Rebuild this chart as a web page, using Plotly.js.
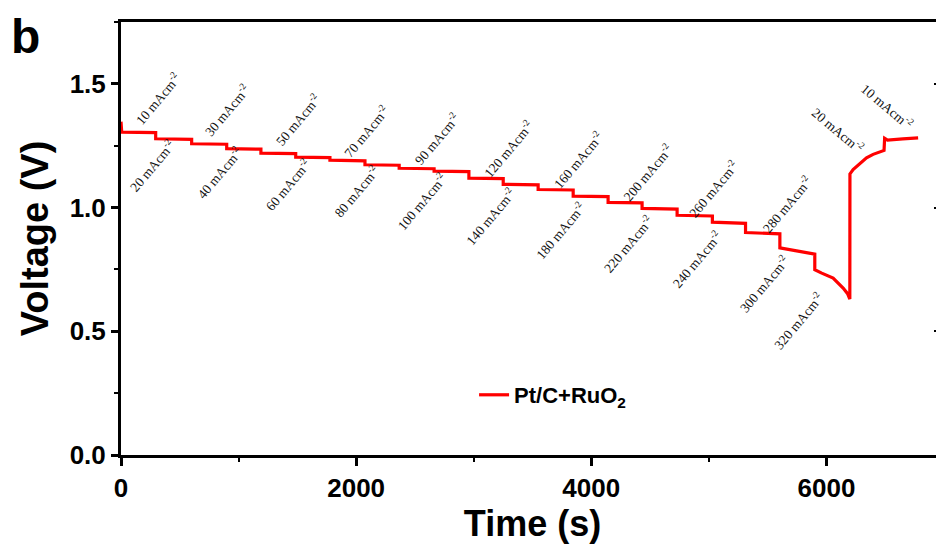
<!DOCTYPE html>
<html>
<head>
<meta charset="utf-8">
<script src="https://cdn.plot.ly/plotly-3.0.1.min.js"></script>
<style>
html,body{margin:0;padding:0;overflow:hidden;background:#fff;}
#chart{width:960px;height:545px;}
</style>
</head>
<body>
<div id="chart"></div>
<script>
// ---- data ----
const timeS = [0, 6, 295, 295, 601, 601, 899, 899, 1190, 1190, 1486, 1486, 1777, 1777,
  2075, 2075, 2366, 2366, 2663, 2663, 2959, 2959, 3251, 3251, 3548, 3548, 3846, 3846,
  4143, 4143, 4432, 4432, 4730, 4730, 5030, 5030, 5312, 5312, 5604, 5604, 5901, 5901,
  5960, 6057, 6142, 6180, 6199,
  6200, 6227, 6284, 6341, 6397, 6490,
  6495, 6520, 6650, 6780];
const voltage = [1.347, 1.305, 1.303, 1.278, 1.276, 1.258, 1.256, 1.238, 1.236, 1.220,
  1.218, 1.204, 1.202, 1.192, 1.189, 1.173, 1.171, 1.159, 1.157, 1.147, 1.145, 1.119,
  1.117, 1.094, 1.092, 1.073, 1.071, 1.046, 1.044, 1.021, 1.019, 0.997, 0.994, 0.969,
  0.966, 0.941, 0.936, 0.899, 0.894, 0.837, 0.812, 0.749,
  0.735, 0.715, 0.675, 0.652, 0.630,
  1.136, 1.154, 1.178, 1.201, 1.215, 1.231,
  1.280, 1.273, 1.278, 1.282];
const seriesName = 'Pt/C+RuO<sub>2</sub>';

const labelDensity = ['10','20','30','40','50','60','70','80','90','100','120','140',
  '160','180','200','220','240','260','280','300','320','20','10'];
const labelTime = [317, 266, 899, 842, 1508, 1423, 2089, 2004, 2690, 2562, 3299, 3143,
  3894, 3739, 4484, 4320, 4900, 5043, 5666, 5476, 5765, 6100, 6516];
const labelVolt = [1.441, 1.171, 1.394, 1.140, 1.356, 1.093, 1.306, 1.064, 1.279, 1.023,
  1.239, 0.965, 1.194, 0.908, 1.140, 0.854, 0.789, 1.077, 1.012, 0.692, 0.544, 1.313, 1.408];
const labelRecovery = [false,false,false,false,false,false,false,false,false,false,false,
  false,false,false,false,false,false,false,false,false,false,true,true];

const xTickVals = [0, 2000, 4000, 6000];
const xTickText = ['0', '2000', '4000', '6000'];
const yTickVals = [0, 0.5, 1.0, 1.5];
const yTickText = ['0.0', '0.5', '1.0', '1.5'];

// ---- styles ----
const boldFont = {family: 'Liberation Sans, Arial, sans-serif', weight: 'bold', color: '#000'};

const trace = {
  x: timeS, y: voltage, type: 'scatter', mode: 'lines', name: seriesName,
  line: {color: '#ff0000', width: 3.2}
};
// carrier for the right-hand tick marks (no visible marks)
const rightAxisCarrier = {
  x: [null], y: [null], yaxis: 'y2', type: 'scatter', mode: 'lines',
  showlegend: false, hoverinfo: 'skip'
};

const annotations = labelDensity.map((d, i) => ({
  x: labelTime[i], y: labelVolt[i], xref: 'x', yref: 'y',
  text: d + ' mAcm<sup>-2</sup>', showarrow: false,
  textangle: labelRecovery[i] ? 40 : -50,
  xanchor: 'center', yanchor: 'middle',
  font: {family: 'Liberation Serif, Times New Roman, serif', size: 13.5, color: '#111'}
}));
annotations.push({
  x: -0.1166, y: 0.966, xref: 'paper', yref: 'paper', text: 'b', showarrow: false,
  xanchor: 'center', yanchor: 'middle',
  font: Object.assign({}, boldFont, {size: 48})
});

const layout = {
  width: 960, height: 545,
  margin: {l: 121, r: 16, t: 22, b: 90},
  paper_bgcolor: '#fff', plot_bgcolor: '#fff',
  showlegend: true,
  legend: {
    x: 0.429, y: 0.1386, xanchor: 'left', yanchor: 'middle',
    bgcolor: 'rgba(0,0,0,0)', borderwidth: 0,
    font: Object.assign({}, boldFont, {size: 22})
  },
  xaxis: {
    range: [0, 7000], showgrid: false, zeroline: false,
    showline: true, linecolor: '#000', linewidth: 3, mirror: true,
    ticks: 'outside', ticklen: 8, tickwidth: 3, tickcolor: '#000',
    tickvals: xTickVals, ticktext: xTickText,
    tickfont: Object.assign({}, boldFont, {size: 26}),
    minor: {dtick: 1000, tick0: 0, ticks: 'outside', ticklen: 4, tickwidth: 2, tickcolor: '#000', showgrid: false},
    title: {text: 'Time (s)', font: Object.assign({}, boldFont, {size: 36}), standoff: 8},
    automargin: false
  },
  yaxis: {
    range: [0, 1.75], showgrid: false, zeroline: false,
    showline: true, linecolor: '#000', linewidth: 3, mirror: true,
    ticks: 'outside', ticklen: 7, tickwidth: 3, tickcolor: '#000',
    tickvals: yTickVals, ticktext: yTickText,
    tickfont: Object.assign({}, boldFont, {size: 26}),
    minor: {dtick: 0.25, tick0: 0, ticks: 'outside', ticklen: 4, tickwidth: 2, tickcolor: '#000', showgrid: false},
    title: {text: 'Voltage (V)', font: Object.assign({}, boldFont, {size: 38}), standoff: 10},
    automargin: false
  },
  yaxis2: {
    range: [0, 1.75], overlaying: 'y', side: 'right', anchor: 'free', position: 0.9927,
    showgrid: false, zeroline: false, showline: false,
    ticks: 'inside', ticklen: 4, tickwidth: 2, tickcolor: '#000',
    tickvals: yTickVals, showticklabels: false
  },
  annotations: annotations
};

Plotly.newPlot('chart', [trace, rightAxisCarrier], layout, {displayModeBar: false, staticPlot: true});
</script>
</body>
</html>
